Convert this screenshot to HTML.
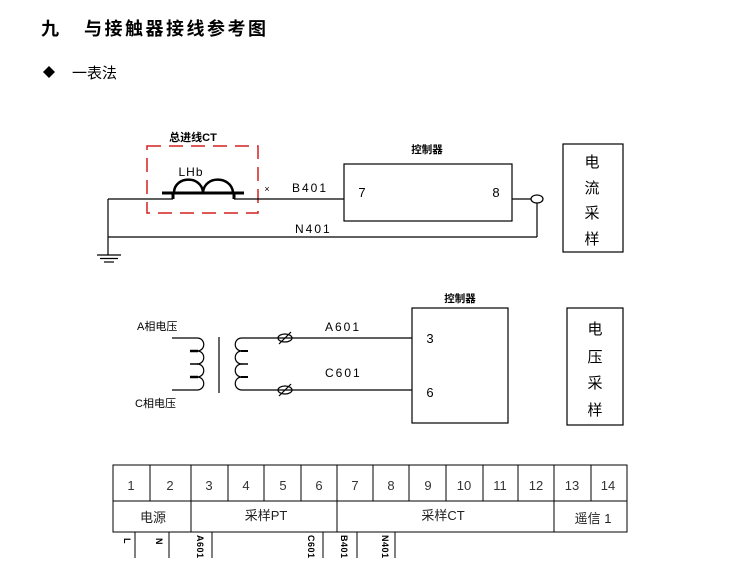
<!DOCTYPE html>
<html><head><meta charset="utf-8">
<style>
html,body{margin:0;padding:0;background:#fff;}
svg{display:block;}
text{font-family:"Liberation Sans","Noto Sans CJK SC",sans-serif;}
.cjk{font-family:"Liberation Sans","Noto Sans CJK SC",sans-serif;}
.num{font-family:"Liberation Serif","Noto Serif CJK SC",serif;fill:#333;font-size:13px;}
</style></head>
<body>
<svg width="730" height="584" viewBox="0 0 730 584" xmlns="http://www.w3.org/2000/svg">
<rect width="730" height="584" fill="#fff"/>
<!-- Title -->
<text x="41" y="35" font-size="18" font-weight="bold" class="cjk" fill="#000">九</text>
<text x="84" y="35" font-size="18" font-weight="bold" class="cjk" fill="#000" letter-spacing="2.5">与接触器接线参考图</text>
<polygon points="49,66 55,72 49,78 43,72" fill="#000"/>
<text x="72" y="78" font-size="15" class="cjk" fill="#000">一表法</text>

<!-- Top diagram -->
<g stroke="#000" fill="none" stroke-width="1.2">
  <rect x="147" y="146" width="111" height="67" stroke="#d42020" stroke-width="1.5" stroke-dasharray="14,8"/>
  <line x1="108" y1="199" x2="173" y2="199"/>
  <line x1="234" y1="199" x2="344" y2="199"/>
  <line x1="162" y1="193" x2="244" y2="193" stroke-width="3"/>
  <line x1="173" y1="193" x2="173" y2="199" stroke-width="3"/>
  <line x1="234" y1="193" x2="234" y2="199" stroke-width="3"/>
  <path d="M174,192 C175,176 201,175 203,192 C205,175 231,176 233,192" stroke-width="2.5"/>
  <rect x="344" y="164" width="168" height="57"/>
  <line x1="512" y1="199" x2="531" y2="199"/>
  <ellipse cx="537" cy="199" rx="6" ry="4"/>
  <line x1="537" y1="203" x2="537" y2="237"/>
  <line x1="108" y1="237" x2="537" y2="237"/>
  <line x1="108" y1="199" x2="108" y2="255"/>
  <line x1="97" y1="255" x2="121" y2="255"/>
  <line x1="100" y1="258.5" x2="118" y2="258.5"/>
  <line x1="104" y1="262" x2="114" y2="262"/>
  <rect x="563" y="144" width="60" height="108"/>
</g>
<text x="193" y="141" font-size="11" font-weight="bold" class="cjk" text-anchor="middle">总进线CT</text>
<text x="191" y="176" font-size="12" text-anchor="middle" letter-spacing="1">LHb</text>
<text x="267" y="192" font-size="9" text-anchor="middle">×</text>
<text x="292" y="192" font-size="12" letter-spacing="2">B401</text>
<text x="295" y="233" font-size="12" letter-spacing="2">N401</text>
<text x="427" y="153" font-size="10.5" font-weight="bold" class="cjk" text-anchor="middle">控制器</text>
<text x="362" y="197" font-size="13" text-anchor="middle">7</text>
<text x="496" y="197" font-size="13" text-anchor="middle">8</text>
<g font-size="15" class="cjk" text-anchor="middle">
  <text x="592" y="167">电</text>
  <text x="592" y="193">流</text>
  <text x="592" y="218">采</text>
  <text x="592" y="244">样</text>
</g>

<!-- Middle diagram -->
<g stroke="#000" fill="none" stroke-width="1.2">
  <path d="M172,338 L197,338 C206,338 206,351 197,351 C206,351 206,364 197,364 C206,364 206,377 197,377 C206,377 206,390 197,390 L172,390"/>
  <line x1="190" y1="351" x2="198" y2="351" stroke-width="2.5"/>
  <line x1="190" y1="364" x2="198" y2="364" stroke-width="1.5"/>
  <line x1="190" y1="377" x2="198" y2="377" stroke-width="2.5"/>
  <line x1="219" y1="337" x2="219" y2="393"/>
  <path d="M412,338 L242,338 C233,338 233,351 242,351 C233,351 233,364 242,364 C233,364 233,377 242,377 C233,377 233,390 242,390 L412,390"/>
  <line x1="241" y1="351" x2="248" y2="351" stroke-width="2"/>
  <line x1="241" y1="364" x2="248" y2="364" stroke-width="1.5"/>
  <line x1="241" y1="377" x2="248" y2="377" stroke-width="2"/>
  <ellipse cx="285" cy="338" rx="7" ry="4"/>
  <line x1="279" y1="344" x2="291" y2="332"/>
  <ellipse cx="285" cy="390" rx="7" ry="4"/>
  <line x1="279" y1="396" x2="291" y2="384"/>
  <rect x="412" y="308" width="96" height="115"/>
  <rect x="567" y="308" width="56" height="117"/>
</g>
<text x="137" y="330" font-size="11" class="cjk">A相电压</text>
<text x="135" y="407" font-size="11" class="cjk">C相电压</text>
<text x="325" y="331" font-size="12" letter-spacing="2">A601</text>
<text x="325" y="377" font-size="12" letter-spacing="2">C601</text>
<text x="460" y="302" font-size="10.5" font-weight="bold" class="cjk" text-anchor="middle">控制器</text>
<text x="430" y="343" font-size="13" text-anchor="middle">3</text>
<text x="430" y="397" font-size="13" text-anchor="middle">6</text>
<g font-size="15" class="cjk" text-anchor="middle">
  <text x="595" y="334">电</text>
  <text x="595" y="362">压</text>
  <text x="595" y="388">采</text>
  <text x="595" y="415">样</text>
</g>

<!-- Table -->
<g stroke="#000" fill="none" stroke-width="1">
  <rect x="113" y="465" width="514" height="67"/>
  <line x1="113" y1="501" x2="627" y2="501"/>
  <line x1="150" y1="465" x2="150" y2="501"/>
  <line x1="191" y1="465" x2="191" y2="532"/>
  <line x1="228" y1="465" x2="228" y2="501"/>
  <line x1="264" y1="465" x2="264" y2="501"/>
  <line x1="301" y1="465" x2="301" y2="501"/>
  <line x1="337" y1="465" x2="337" y2="532"/>
  <line x1="373" y1="465" x2="373" y2="501"/>
  <line x1="409" y1="465" x2="409" y2="501"/>
  <line x1="446" y1="465" x2="446" y2="501"/>
  <line x1="483" y1="465" x2="483" y2="501"/>
  <line x1="518" y1="465" x2="518" y2="501"/>
  <line x1="554" y1="465" x2="554" y2="532"/>
  <line x1="591" y1="465" x2="591" y2="501"/>
  <line x1="135" y1="532" x2="135" y2="558"/>
  <line x1="169" y1="532" x2="169" y2="558"/>
  <line x1="212" y1="532" x2="212" y2="558"/>
  <line x1="323" y1="532" x2="323" y2="558"/>
  <line x1="357" y1="532" x2="357" y2="558"/>
  <line x1="395" y1="532" x2="395" y2="558"/>
</g>
<g class="num" text-anchor="middle">
  <text x="131" y="490">1</text>
  <text x="170" y="490">2</text>
  <text x="209" y="490">3</text>
  <text x="246" y="490">4</text>
  <text x="283" y="490">5</text>
  <text x="319" y="490">6</text>
  <text x="355" y="490">7</text>
  <text x="391" y="490">8</text>
  <text x="428" y="490">9</text>
  <text x="464" y="490">10</text>
  <text x="500" y="490">11</text>
  <text x="536" y="490">12</text>
  <text x="572" y="490">13</text>
  <text x="608" y="490">14</text>
</g>
<g font-size="13" class="cjk" text-anchor="middle" fill="#222">
  <text x="153" y="522">电源</text>
  <text x="266" y="520">采样PT</text>
  <text x="443" y="520">采样CT</text>
  <text x="593" y="523">遥信 1</text>
</g>
<g font-size="9" fill="#000" font-weight="bold">
  <text transform="translate(124,538) rotate(90)">L</text>
  <text transform="translate(156,538) rotate(90)">N</text>
  <text transform="translate(197,535) rotate(90)" letter-spacing="0.5">A601</text>
  <text transform="translate(308,535) rotate(90)" letter-spacing="0.5">C601</text>
  <text transform="translate(341,535) rotate(90)" letter-spacing="0.5">B401</text>
  <text transform="translate(382,535) rotate(90)" letter-spacing="0.5">N401</text>
</g>
</svg>
</body></html>
